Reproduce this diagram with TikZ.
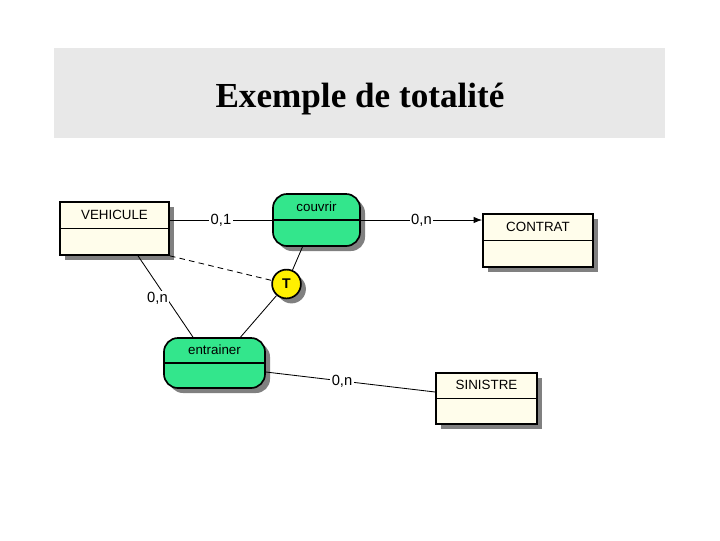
\documentclass[tikz,border=0pt]{standalone}
\usepackage{fontspec}
\setmainfont{Liberation Serif}
\setsansfont{Liberation Sans}
\usepackage{xcolor}
\usepackage{tikz}
\usetikzlibrary{arrows.meta, calc, shadows}

\definecolor{bandgray}{RGB}{232,232,232}
\definecolor{entcream}{RGB}{255,253,235}
\definecolor{assocgreen}{RGB}{51,230,140}
\definecolor{shadowgray}{RGB}{128,128,128}
\definecolor{totyellow}{RGB}{255,240,0}

\begin{document}
\begin{tikzpicture}[
    x=0.025cm, y=-0.025cm,
    myshadow/.style={drop shadow={shadow xshift=0.125cm, shadow yshift=-0.125cm, fill=shadowgray, opacity=1}},
    entity/.style={rectangle, draw=black, line width=1.2pt, fill=entcream, myshadow, inner sep=0pt},
    assoc/.style={rectangle, draw=black, line width=1.2pt, fill=assocgreen, rounded corners=0.35cm, myshadow, inner sep=0pt},
    total/.style={circle, draw=black, line width=1.2pt, fill=totyellow, myshadow, minimum size=0.72cm, inner sep=0pt, font=\sffamily\bfseries\fontsize{10}{12}\selectfont},
    boxtext/.style={font=\sffamily\fontsize{9.5}{11}\selectfont, inner sep=0pt},
    link/.style={draw=black, line width=0.6pt},
    card/.style={fill=white, inner sep=1pt, font=\sffamily\fontsize{10.5}{12}\selectfont},
]
\useasboundingbox (0,0) rectangle (720,540);

% ===== Title band =====
\node[rectangle, fill=bandgray, minimum width=15.275cm, minimum height=2.25cm, inner sep=0pt] (band) at (359.5,93) {};
\node[font=\bfseries\fontsize{25}{30}\selectfont] (title) at (360,99) {Exemple de totalité};

% ===== Entities =====
\node[entity, minimum width=2.725cm, minimum height=1.325cm] (vehicule) at (114.5,228.5) {};
\node[entity, minimum width=2.75cm, minimum height=1.325cm] (contrat) at (538,240.5) {};
\node[entity, minimum width=2.525cm, minimum height=1.275cm] (sinistre) at (486.5,398.5) {};

% ===== Associations =====
\node[assoc, minimum width=2.175cm, minimum height=1.3cm] (couvrir) at (316.5,220) {};
\node[assoc, minimum width=2.525cm, minimum height=1.25cm] (entrainer) at (214.5,363) {};

% ===== Dividers and names =====
\foreach \n in {vehicule, contrat, sinistre, couvrir, entrainer}
    \draw[line width=1pt] (\n.west) -- (\n.east);

\node[boxtext] (vehiculet) at ($(vehicule.north)!0.5!(vehicule.center)$) {VEHICULE};
\node[boxtext] (contratt) at ($(contrat.north)!0.5!(contrat.center)$) {CONTRAT};
\node[boxtext] (sinistret) at ($(sinistre.north)!0.5!(sinistre.center)$) {SINISTRE};
\node[boxtext] (couvrirt) at ($(couvrir.north)!0.5!(couvrir.center)$) {couvrir};
\node[boxtext] (entrainert) at ($(entrainer.north)!0.5!(entrainer.center)$) {entrainer};

% ===== Totality constraint =====
\node[total] (tpt) at (286.5,284) {T};

% ===== Links =====
\draw[link] (vehicule.east |- couvrir.west) -- (couvrir.west)
    node[card, midway] {0,1};
\draw[link, -{Latex[length=6pt, width=4.5pt]}] (couvrir.east) -- (contrat.west |- couvrir.east)
    node[card, midway] {0,n};
\draw[link] ($(vehicule.south)+(23.5,0)$) -- ($(entrainer.north)+(-21.5,0)$)
    node[card, pos=0.5, xshift=-0.2cm, yshift=-0.05cm] {0,n};
\draw[link] ($(entrainer.east)+(0,9)$) -- ($(sinistre.west)+(0,-6.5)$)
    node[card, pos=0.45] {0,n};

% ===== Totality links =====
\draw[link, dash pattern=on 4pt off 3pt] (vehicule.south east) -- (tpt);
\draw[link] ($(couvrir.south)+(-14,0)$) -- (tpt);
\draw[link] (tpt) -- ($(entrainer.north)+(26,0)$);

\end{tikzpicture}
\end{document}
